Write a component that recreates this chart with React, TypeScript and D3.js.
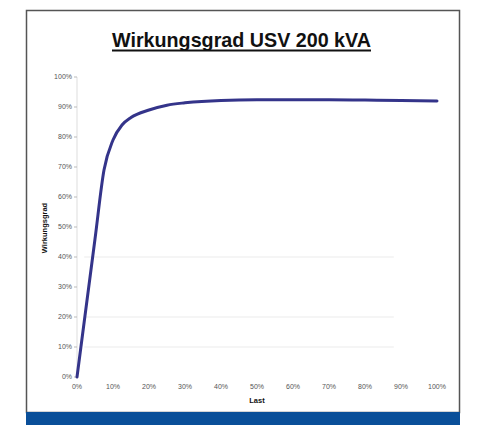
import { useRef, useEffect } from "react";
import * as d3 from "d3";

// Last (%) vs Wirkungsgrad (%)
const load = [0, 5, 7.5, 10, 12.5, 15, 20, 25, 30, 40, 50, 60, 70, 80, 90, 100];
const efficiency = [0, 46, 69, 79, 84, 86.5, 89, 90.6, 91.4, 92.2, 92.4, 92.4, 92.4, 92.3, 92.2, 92.0];
const xTicks = [0, 10, 20, 30, 40, 50, 60, 70, 80, 90, 100];
const yTicks = [0, 10, 20, 30, 40, 50, 60, 70, 80, 90, 100];
const gridLevels = [10, 20, 40];

const title = "Wirkungsgrad USV 200 kVA";
const xTitle = "Last";
const yTitle = "Wirkungsgrad";

const width = 477;
const height = 428;

const App = () => {
  const svgRef = useRef<SVGSVGElement>(null);

  useEffect(() => {
    const svg = d3.select(svgRef.current);
    svg.selectAll("*").remove();

    const x = d3.scaleLinear().domain([0, 100]).range([77, 437]);
    const y = d3.scaleLinear().domain([0, 100]).range([377, 77]);

    // frame + blue footer
    svg
      .append("rect")
      .attr("x", 26.5)
      .attr("y", 10.5)
      .attr("width", 433)
      .attr("height", 402)
      .attr("fill", "#fff")
      .attr("stroke", "#555")
      .attr("stroke-width", 1.5);
    svg
      .append("rect")
      .attr("x", 26)
      .attr("y", 412)
      .attr("width", 434)
      .attr("height", 13)
      .attr("fill", "#0a4f99");

    // title
    svg
      .append("text")
      .attr("x", 241.5)
      .attr("y", 47)
      .attr("text-anchor", "middle")
      .attr("textLength", 259)
      .attr("lengthAdjust", "spacingAndGlyphs")
      .style("font-family", "Liberation Sans, Arial, sans-serif")
      .style("font-weight", "bold")
      .style("font-size", "20.5px")
      .attr("fill", "#111")
      .text(title);
    svg
      .append("line")
      .attr("x1", 112)
      .attr("x2", 371)
      .attr("y1", 50.5)
      .attr("y2", 50.5)
      .attr("stroke", "#111")
      .attr("stroke-width", 2);

    // faint grid
    svg
      .selectAll(".grid")
      .data(gridLevels)
      .enter()
      .append("line")
      .attr("class", "grid")
      .attr("x1", x(2))
      .attr("x2", x(88))
      .attr("y1", (d) => y(d))
      .attr("y2", (d) => y(d))
      .attr("stroke", "#ebebeb")
      .attr("stroke-width", 1);

    // y axis
    const yAxis = svg.append("g").attr("transform", `translate(${x(0)},0)`);
    yAxis
      .append("line")
      .attr("y1", y(0))
      .attr("y2", y(100))
      .attr("stroke", "#ddd");
    const yt = yAxis
      .selectAll(".ytick")
      .data(yTicks)
      .enter()
      .append("g")
      .attr("class", "ytick")
      .attr("transform", (d) => `translate(0,${y(d)})`);
    yt.append("line").attr("x1", -3).attr("x2", 0).attr("stroke", "#bbb");
    yt.append("text")
      .attr("x", -5)
      .attr("dy", "0.35em")
      .attr("text-anchor", "end")
      .style("font-family", "Liberation Sans, Arial, sans-serif")
      .style("font-size", "7px")
      .attr("fill", "#555")
      .text((d) => `${d}%`);

    // x axis labels
    svg
      .selectAll(".xtick")
      .data(xTicks)
      .enter()
      .append("text")
      .attr("class", "xtick")
      .attr("x", (d) => x(d))
      .attr("y", 389)
      .attr("text-anchor", "middle")
      .style("font-family", "Liberation Sans, Arial, sans-serif")
      .style("font-size", "7px")
      .attr("fill", "#555")
      .text((d) => `${d}%`);

    // axis titles
    svg
      .append("text")
      .attr("x", 257)
      .attr("y", 403)
      .attr("text-anchor", "middle")
      .style("font-family", "Liberation Sans, Arial, sans-serif")
      .style("font-weight", "bold")
      .style("font-size", "7.5px")
      .attr("fill", "#111")
      .text(xTitle);
    svg
      .append("text")
      .attr("transform", "translate(47,228) rotate(-90)")
      .attr("text-anchor", "middle")
      .style("font-family", "Liberation Sans, Arial, sans-serif")
      .style("font-weight", "bold")
      .style("font-size", "7.5px")
      .attr("fill", "#111")
      .text(yTitle);

    // curve
    const line = d3
      .line<number>()
      .x((d, i) => x(load[i]))
      .y((d) => y(d))
      .curve(d3.curveMonotoneX);
    svg
      .append("path")
      .attr("d", line(efficiency))
      .attr("fill", "none")
      .attr("stroke", "#34348a")
      .attr("stroke-width", 3)
      .attr("stroke-linecap", "round");
  }, []);

  return (
    <svg
      ref={svgRef}
      width={width}
      height={height}
      style={{ position: "absolute", left: 0, top: 0 }}
    ></svg>
  );
};

export default App;
